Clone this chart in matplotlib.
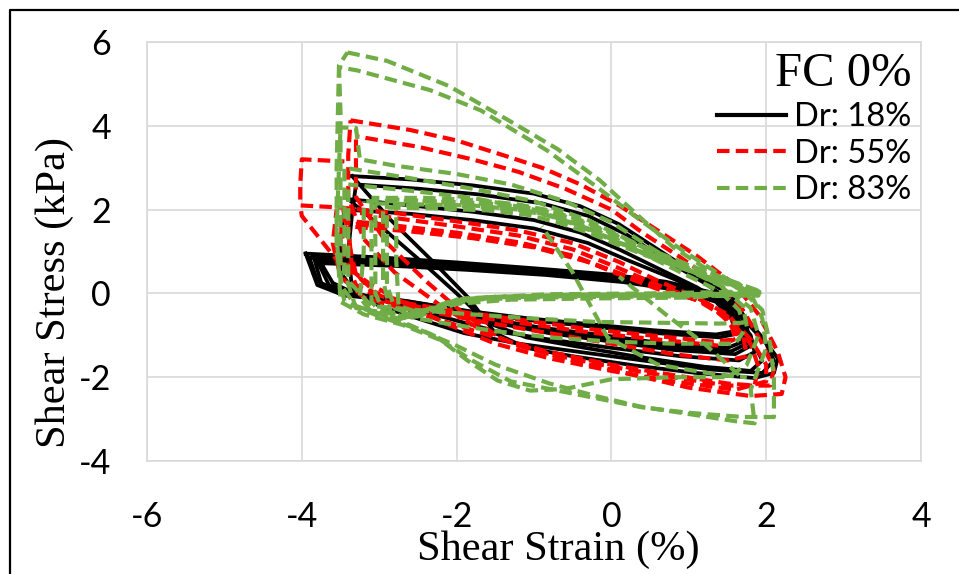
import matplotlib
matplotlib.use("Agg")
import matplotlib.pyplot as plt
from matplotlib.lines import Line2D

plt.rcParams['axes.unicode_minus'] = False

# cyclic simple shear loops, shear strain (%) vs shear stress (kPa)
# each loop is a list of (strain, stress) points

dr18_loops = [
    [(-3.35, 2.8), (-2.6, 2.72), (-1.8, 2.58), (-1.0, 2.38), (-0.4, 2.08), (0.1, 1.65), (0.6, 1.05),
     (1.1, 0.45), (1.55, -0.05), (1.7, -0.5), (1.95, -1.05), (2.15, -1.55), (2.1, -1.9), (1.85, -2.02),
     (1.1, -1.9), (0.3, -1.72), (-0.5, -1.5), (-1.1, -1.3), (-1.5, -0.95), (-1.85, -0.1), (-2.3, 0.75),
     (-2.85, 1.75), (-3.35, 2.8)],
    [(-3.3, 2.6), (-2.5, 2.5), (-1.7, 2.36), (-0.9, 2.15), (-0.3, 1.85), (0.2, 1.4), (0.7, 0.8),
     (1.2, 0.25), (1.6, -0.25), (1.75, -0.7), (2.0, -1.2), (2.1, -1.6), (1.95, -1.9), (1.3, -1.82),
     (0.4, -1.6), (-0.4, -1.4), (-1.2, -1.2), (-1.9, -0.95), (-2.5, -0.6), (-3.0, -0.3), (-3.35, 0.1),
     (-3.4, 1.0), (-3.35, 1.9), (-3.3, 2.6)],
    [(-3.4, 2.25), (-2.6, 2.1), (-1.8, 1.95), (-1.0, 1.75), (-0.4, 1.45), (0.1, 1.05), (0.6, 0.6),
     (1.1, 0.15), (1.5, -0.3), (1.65, -0.75), (1.85, -1.25), (1.95, -1.6), (1.8, -1.85), (1.2, -1.75),
     (0.3, -1.5), (-0.5, -1.25), (-1.1, -1.05), (-1.6, -0.7), (-2.0, 0.0), (-2.45, 0.75), (-2.95, 1.55),
     (-3.4, 2.25)],
    [(-3.45, 2.0), (-2.6, 1.9), (-1.8, 1.75), (-1.0, 1.55), (-0.3, 1.2), (0.2, 0.8), (0.8, 0.35),
     (1.3, -0.05), (1.6, -0.55), (1.8, -1.0), (1.85, -1.4), (1.65, -1.6), (0.9, -1.5), (0.0, -1.3),
     (-0.8, -1.1), (-1.5, -0.9), (-2.2, -0.55), (-2.8, -0.25), (-3.3, 0.0), (-3.5, 0.5), (-3.5, 1.3),
     (-3.45, 2.0)],
    [(-3.95, 0.95), (-3.0, 0.86), (-2.0, 0.74), (-1.0, 0.6), (0.0, 0.45), (0.7, 0.28), (1.3, 0.02),
     (1.6, -0.3), (1.75, -0.8), (1.8, -1.25), (1.6, -1.45), (0.8, -1.35), (0.0, -1.15), (-0.8, -0.95),
     (-1.5, -0.7), (-2.2, -0.4), (-2.9, -0.15), (-3.45, -0.05), (-3.8, 0.2), (-3.95, 0.95)],
    [(-3.9, 0.85), (-3.0, 0.78), (-2.0, 0.66), (-1.0, 0.52), (0.0, 0.36), (0.7, 0.2), (1.3, -0.05),
     (1.55, -0.4), (1.65, -0.85), (1.7, -1.15), (1.5, -1.3), (0.7, -1.2), (-0.1, -1.0), (-0.9, -0.82),
     (-1.6, -0.6), (-2.3, -0.3), (-3.0, -0.1), (-3.5, 0.0), (-3.8, 0.3), (-3.9, 0.85)],
    [(-3.8, 0.78), (-2.9, 0.7), (-1.9, 0.6), (-0.9, 0.47), (0.1, 0.3), (0.8, 0.12), (1.35, -0.15),
     (1.6, -0.55), (1.65, -0.95), (1.4, -1.05), (0.6, -0.95), (-0.2, -0.8), (-1.0, -0.65), (-1.8, -0.45),
     (-2.6, -0.2), (-3.3, -0.05), (-3.65, 0.2), (-3.8, 0.78)],
    [(-3.85, 0.9), (-2.95, 0.82), (-1.95, 0.7), (-0.95, 0.55), (0.05, 0.4), (0.75, 0.22), (1.3, -0.03),
     (1.6, -0.4), (1.7, -0.9), (1.75, -1.2), (1.55, -1.38), (0.75, -1.28), (-0.05, -1.08),
     (-0.85, -0.9), (-1.55, -0.66), (-2.25, -0.36), (-2.95, -0.12), (-3.5, -0.02), (-3.75, 0.25),
     (-3.85, 0.9)],
    [(-3.75, 0.72), (-2.85, 0.66), (-1.85, 0.56), (-0.85, 0.44), (0.15, 0.27), (0.85, 0.08),
     (1.35, -0.2), (1.55, -0.6), (1.6, -0.9), (1.35, -0.98), (0.55, -0.88), (-0.25, -0.74),
     (-1.05, -0.6), (-1.85, -0.42), (-2.65, -0.18), (-3.3, -0.02), (-3.6, 0.25), (-3.75, 0.72)],
]

dr55_loops = [
    [(-3.37, 4.13), (-2.6, 3.9), (-2.0, 3.65), (-1.4, 3.3), (-0.9, 3.0), (-0.4, 2.6), (0.1, 2.1),
     (0.6, 1.5), (1.1, 0.9), (1.6, 0.2), (1.9, -0.5), (2.15, -1.4), (2.25, -2.0), (2.2, -2.4),
     (1.8, -2.45), (1.0, -2.25), (0.3, -1.95), (-0.5, -1.6), (-1.2, -1.25), (-1.7, -0.85), (-2.2, -0.3),
     (-2.8, 0.5), (-3.2, 1.3), (-3.4, 2.3), (-3.4, 3.3), (-3.37, 4.13)],
    [(-3.3, 3.75), (-2.5, 3.5), (-1.8, 3.2), (-1.2, 2.9), (-0.6, 2.5), (0.0, 2.0), (0.4, 1.45),
     (0.9, 0.85), (1.4, 0.2), (1.7, -0.4), (1.95, -1.2), (2.1, -1.8), (2.05, -2.2), (1.5, -2.2),
     (0.8, -2.0), (0.0, -1.75), (-0.8, -1.45), (-1.4, -1.1), (-1.9, -0.5), (-2.4, 0.3), (-2.9, 1.2),
     (-3.3, 2.3), (-3.3, 3.75)],
    [(-3.45, 3.15), (-4.0, 3.2), (-4.02, 2.6), (-4.02, 2.1), (-3.5, 2.05), (-2.8, 1.92), (-2.0, 1.72),
     (-1.2, 1.5), (-0.5, 1.2), (0.1, 0.75), (0.6, 0.3), (1.1, -0.1), (1.5, -0.5), (1.8, -1.1),
     (2.0, -1.7), (2.0, -2.1), (1.6, -2.3), (0.8, -2.1), (0.0, -1.85), (-0.8, -1.55), (-1.5, -1.2),
     (-2.1, -0.75), (-2.6, -0.3), (-3.1, 0.2), (-3.55, 0.8), (-4.0, 1.85), (-4.02, 2.1)],
    [(-3.55, 2.0), (-2.8, 1.8), (-2.0, 1.6), (-1.2, 1.38), (-0.5, 1.05), (0.1, 0.6), (0.6, 0.2),
     (1.1, -0.15), (1.5, -0.6), (1.8, -1.2), (1.9, -1.75), (1.85, -2.2), (1.5, -2.15), (0.8, -1.95),
     (0.0, -1.7), (-0.8, -1.4), (-1.5, -1.05), (-2.1, -0.7), (-2.7, -0.35), (-3.2, -0.1), (-3.5, 0.4),
     (-3.6, 1.2), (-3.55, 2.0)],
    [(-3.5, 1.75), (-2.8, 1.62), (-2.0, 1.45), (-1.2, 1.22), (-0.5, 0.9), (0.1, 0.45), (0.6, 0.1),
     (1.2, -0.2), (1.5, -0.55), (1.7, -1.0), (1.75, -1.5), (1.5, -1.6), (0.8, -1.45), (0.0, -1.2),
     (-0.8, -0.95), (-1.6, -0.7), (-2.3, -0.45), (-2.9, -0.2), (-3.3, 0.2), (-3.45, 0.9), (-3.5, 1.75)],
    [(-3.4, 1.6), (-2.6, 1.48), (-1.8, 1.32), (-1.0, 1.1), (-0.3, 0.75), (0.3, 0.35), (0.8, 0.05),
     (1.3, -0.3), (1.55, -0.75), (1.6, -1.1), (1.3, -1.15), (0.5, -1.0), (-0.3, -0.85), (-1.1, -0.65),
     (-1.9, -0.45), (-2.6, -0.25), (-3.1, 0.05), (-3.35, 0.6), (-3.4, 1.6)],
    [(-3.45, 1.68), (-2.7, 1.55), (-1.9, 1.4), (-1.1, 1.17), (-0.4, 0.83), (0.2, 0.4), (0.7, 0.08),
     (1.25, -0.25), (1.5, -0.65), (1.65, -1.05), (1.4, -1.25), (0.6, -1.1), (-0.2, -0.95),
     (-1.0, -0.75), (-1.8, -0.55), (-2.5, -0.32), (-3.0, -0.05), (-3.3, 0.45), (-3.45, 1.68)],
]

dr83_loops = [
    [(-3.41, 5.75), (-2.9, 5.55), (-2.1, 4.95), (-1.3, 4.1), (-0.7, 3.45), (-0.15, 2.7), (0.35, 1.85),
     (0.8, 1.1), (1.3, 0.5), (1.7, 0.05), (1.95, -0.4), (2.05, -1.2), (2.1, -2.0), (2.1, -2.95),
     (1.7, -2.95), (1.0, -2.85), (0.4, -2.72), (-0.2, -2.5), (-0.8, -2.28), (-1.3, -2.1), (-1.8, -1.6),
     (-2.3, -1.0), (-2.8, -0.6), (-3.3, -0.3), (-3.5, 0.2), (-3.5, 1.5), (-3.5, 3.0), (-3.5, 4.3),
     (-3.52, 5.45), (-3.41, 5.75)],
    [(-3.52, 5.4), (-3.28, 5.32), (-2.34, 4.85), (-1.69, 4.37), (-0.83, 3.41), (-0.18, 2.53), (0.37, 1.75),
     (0.9, 1.05), (1.4, 0.45), (1.8, 0.0), (1.95, -0.6), (2.0, -1.3), (1.8, -2.3), (1.85, -3.1),
     (1.6, -3.05), (0.9, -2.85), (0.37, -2.7), (-0.2, -2.45), (-0.8, -2.15), (-1.5, -1.7), (-2.0, -1.25),
     (-2.5, -0.85), (-3.0, -0.55), (-3.45, -0.2), (-3.55, 1.0), (-3.55, 3.0), (-3.52, 5.4)],
    [(-3.5, 3.96), (-3.3, 3.95), (-3.25, 3.2), (-2.8, 3.05), (-2.0, 2.85), (-1.3, 2.6), (-0.6, 2.2),
     (0.0, 1.7), (0.5, 1.1), (1.0, 0.55), (1.5, 0.1), (1.8, -0.35), (1.9, -1.0), (1.75, -1.7),
     (1.5, -2.0), (0.8, -2.0), (0.0, -2.05), (-0.6, -2.28), (-1.05, -2.32), (-1.47, -2.08),
     (-1.86, -1.6), (-2.2, -1.12), (-2.7, -0.75), (-3.2, -0.5), (-3.5, -0.2), (-3.55, 1.5), (-3.5, 3.96)],
    [(-3.45, 3.0), (-2.6, 2.75), (-1.8, 2.5), (-1.0, 2.2), (-0.3, 1.75), (0.3, 1.2), (0.9, 0.65),
     (1.4, 0.2), (1.7, -0.3), (1.75, -0.8), (1.6, -1.2), (0.8, -1.2), (0.0, -1.15), (-0.8, -1.05),
     (-1.5, -0.9), (-2.2, -0.7), (-2.8, -0.5), (-3.3, -0.35), (-3.45, 0.5), (-3.45, 3.0)],
    [(-3.4, 2.6), (-2.6, 2.45), (-1.8, 2.28), (-1.0, 2.0), (-0.3, 1.55), (0.3, 1.05), (0.9, 0.5),
     (1.4, 0.05), (1.65, -0.4), (1.7, -0.7), (1.4, -0.72), (0.6, -0.7), (-0.2, -0.68), (-1.0, -0.6),
     (-1.8, -0.5), (-2.5, -0.4), (-3.1, -0.3), (-3.4, 0.3), (-3.4, 2.6)],
    [(-0.9, 1.6), (-0.5, 0.5), (-0.05, -1.05), (0.6, -1.7), (1.4, -1.95), (1.75, -2.0)],
    [(0.1, 0.4), (0.7, -0.5), (1.2, -1.2), (1.65, -1.95)],
    [(-3.2, 2.2), (-2.5, 2.2), (-1.9, 2.17), (-1.3, 2.08), (-0.9, 1.95), (-0.5, 1.7), (-0.1, 1.38),
     (0.4, 0.98), (0.9, 0.62), (1.4, 0.3), (1.93, -0.02), (1.5, -0.04), (0.5, -0.05), (-0.5, -0.05),
     (-1.5, -0.08), (-2.0, -0.15), (-2.4, -0.45), (-2.75, -0.62), (-3.1, -0.45), (-3.25, -0.1),
     (-3.2, 1.0), (-3.2, 2.2)],
    [(-3.05, 2.15), (-2.4, 2.12), (-1.8, 2.1), (-1.2, 2.0), (-0.8, 1.85), (-0.4, 1.6), (0.0, 1.28),
     (0.5, 0.9), (1.0, 0.55), (1.5, 0.22), (1.9, -0.05), (1.0, -0.07), (0.0, -0.08), (-1.0, -0.1),
     (-1.8, -0.15), (-2.3, -0.4), (-2.7, -0.55), (-2.95, -0.4), (-3.05, 0.0), (-3.05, 1.1), (-3.05, 2.15)],
    [(-2.9, 2.25), (-2.3, 2.2), (-1.6, 2.15), (-1.1, 2.05), (-0.7, 1.9), (-0.3, 1.65), (0.1, 1.35),
     (0.6, 0.95), (1.1, 0.6), (1.6, 0.25), (1.95, 0.0), (0.8, -0.02), (-0.5, -0.03), (-1.6, -0.1),
     (-2.2, -0.3), (-2.6, -0.5), (-2.8, -0.35), (-2.9, 0.2), (-2.9, 1.2), (-2.9, 2.25)],
    [(-2.78, 2.1), (-2.2, 2.1), (-1.5, 2.05), (-1.0, 1.95), (-0.6, 1.75), (-0.2, 1.5), (0.3, 1.1),
     (0.8, 0.75), (1.3, 0.4), (1.9, 0.05), (0.5, 0.0), (-0.8, -0.02), (-1.9, -0.12), (-2.5, -0.45),
     (-2.75, -0.3), (-2.78, 0.8), (-2.78, 2.1)],
    [(-3.1, 2.28), (-2.4, 2.28), (-1.7, 2.22), (-1.2, 2.12), (-0.8, 1.98), (-0.4, 1.75), (0.0, 1.45),
     (0.5, 1.05), (1.0, 0.68), (1.5, 0.33), (1.95, 0.03), (1.0, -0.1), (-0.2, -0.12), (-1.3, -0.15),
     (-2.0, -0.25), (-2.5, -0.55), (-2.9, -0.6), (-3.1, -0.2), (-3.1, 1.0), (-3.1, 2.28)],
    [(-2.95, 2.05), (-2.3, 2.03), (-1.6, 1.98), (-1.1, 1.88), (-0.7, 1.7), (-0.3, 1.45), (0.1, 1.15),
     (0.6, 0.8), (1.1, 0.48), (1.6, 0.18), (1.9, -0.02), (0.9, -0.04), (-0.3, -0.06), (-1.4, -0.09),
     (-2.1, -0.2), (-2.55, -0.5), (-2.85, -0.45), (-2.95, 0.3), (-2.95, 2.05)],
]

series_labels = ['Dr: 18%', 'Dr: 55%', 'Dr: 83%']
series_colors = ['black', '#FF0000', '#70AD47']

fig = plt.figure(figsize=(9.59, 5.74), dpi=100)
ax = fig.add_axes([147 / 959, 1 - 461 / 574, 774 / 959, 419 / 574])

dash_on, dash_off = 3, 1.5
dash = (0, (dash_on, dash_off))
dash_offsets = [0, 2.2, 1.1, 3.3, 0.6, 2.8, 1.6, 3.9, 0.3]

for loop in dr18_loops:
    xs, ys = zip(*loop)
    ax.plot(xs, ys, color=series_colors[0], lw=2.7, solid_joinstyle='round')
for i, loop in enumerate(dr55_loops):
    xs, ys = zip(*loop)
    ax.plot(xs, ys, color=series_colors[1], lw=3.0,
            linestyle=(dash_offsets[i % len(dash_offsets)], (dash_on, dash_off)))
for i, loop in enumerate(dr83_loops):
    xs, ys = zip(*loop)
    ax.plot(xs, ys, color=series_colors[2], lw=3.0,
            linestyle=(dash_offsets[i % len(dash_offsets)], (dash_on, dash_off)))

ax.set_xlim(-6, 4)
ax.set_ylim(-4, 6)
ax.set_xticks(range(-6, 5, 2))
ax.set_yticks(range(-4, 7, 2))
ax.grid(True, color='#D9D9D9', lw=1.2)
ax.set_axisbelow(True)
for sp in ax.spines.values():
    sp.set_color('#D9D9D9')
    sp.set_linewidth(1.2)
ax.tick_params(length=0, labelsize=24.5)
ax.tick_params(axis='x', pad=29)
ax.tick_params(axis='y', pad=26)
for lab in ax.get_xticklabels() + ax.get_yticklabels():
    lab.set_fontfamily('Lato')

ax.set_xlabel('Shear Strain (%)', family='Liberation Serif', fontsize=30.5)
ax.set_ylabel('Shear Stress (kPa)', family='Liberation Serif', fontsize=30.5)
ax.xaxis.set_label_coords(0.532, -0.212)
ax.xaxis.label.set_va('center')
ax.yaxis.set_label_coords(-0.119, 0.403)
ax.yaxis.label.set_va('center')

handles = [
    Line2D([], [], color=series_colors[0], lw=3.0),
    Line2D([], [], color=series_colors[1], lw=3.0, linestyle=dash),
    Line2D([], [], color=series_colors[2], lw=3.0, linestyle=dash),
]
leg = ax.legend(handles, series_labels, title='FC 0%', loc='upper right',
                bbox_to_anchor=(1.0, 1.0), frameon=False, alignment='right',
                prop={'family': 'Lato', 'size': 23.5},
                title_fontproperties={'family': 'Liberation Serif', 'size': 35},
                handlelength=2.1, handletextpad=0.25, labelspacing=0.2,
                borderaxespad=0.1, borderpad=0.2)

# outer frame of the figure
fig.add_artist(Line2D([10 / 959, 10 / 959, 1], [0, 1 - 10 / 574, 1 - 10 / 574],
                      transform=fig.transFigure, color='black', lw=1.6))

fig.savefig('out.png', dpi=100)
